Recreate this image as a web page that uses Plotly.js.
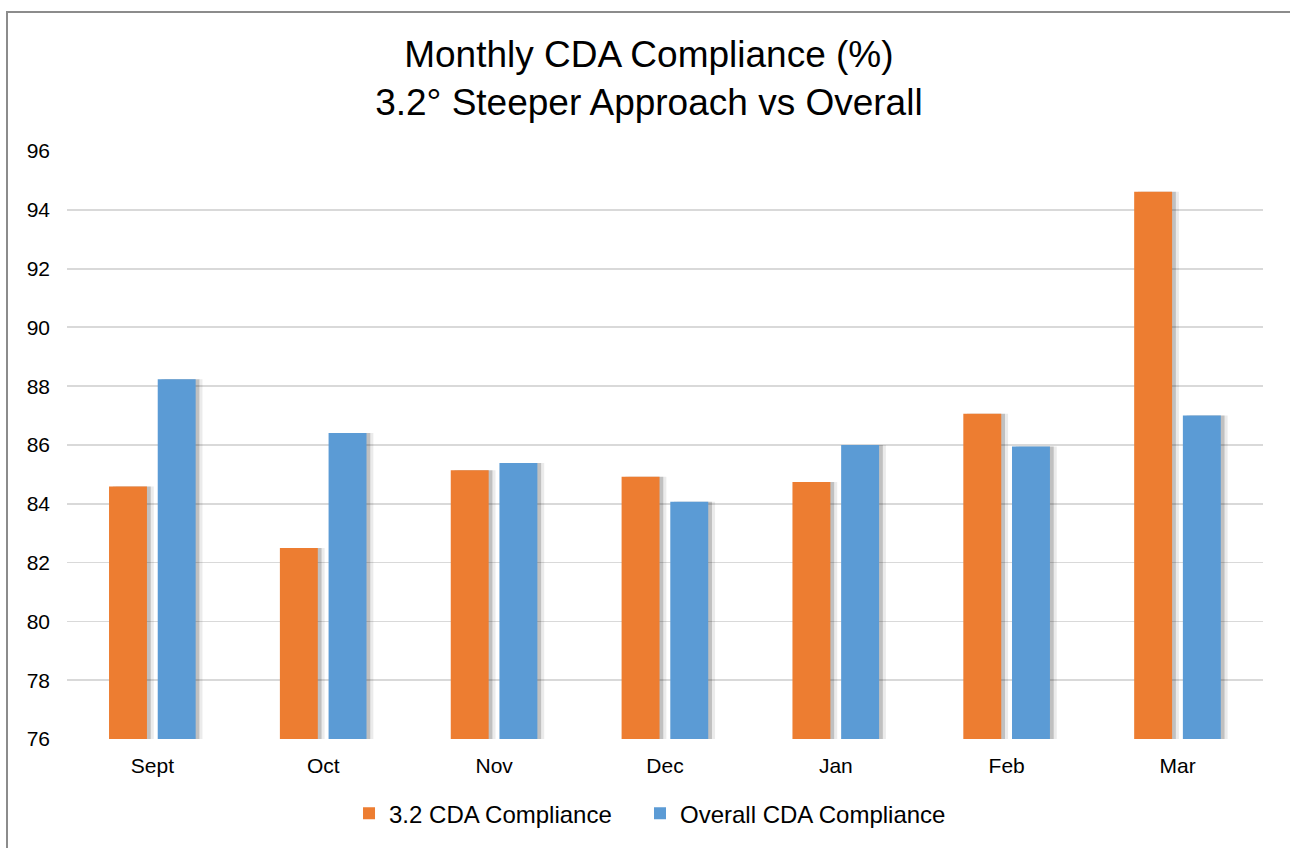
<!DOCTYPE html>
<html>
<head>
<meta charset="utf-8">
<script src="https://cdn.plot.ly/plotly-3.0.1.min.js"></script>
<style>
  html, body { margin: 0; padding: 0; background: #fff; overflow: hidden; }
  #chart { position: absolute; left: 0; top: 0; width: 1290px; height: 848px; }
  #frame { position: absolute; left: 6px; top: 11px; width: 1320px; height: 900px;
           border: 2px solid #8c8c8c; pointer-events: none; }
</style>
</head>
<body>
<div id="chart"></div>
<div id="frame"></div>
<script>
// ---- data ----
const months = ['Sept', 'Oct', 'Nov', 'Dec', 'Jan', 'Feb', 'Mar'];
const cda32 = [84.59, 82.50, 85.14, 84.92, 84.74, 87.06, 94.61];
const overall = [88.24, 86.41, 85.39, 84.07, 86.00, 85.95, 87.00];
const seriesNames = ['3.2 CDA Compliance', 'Overall CDA Compliance'];
const yTicks = [76, 78, 80, 82, 84, 86, 88, 90, 92, 94, 96];

// ---- style ----
const FONT = 'Liberation Sans, Arial, sans-serif';
const ORANGE = '#ED7D31';
const BLUE = '#5B9BD5';
const BAR_W = 0.222;
const OFF_ORANGE = -0.254;
const OFF_BLUE = 0.031;

function shadow(vals, off, shift, alpha) {
  return {
    type: 'bar', x: months, y: vals, width: BAR_W, offset: off + shift,
    marker: { color: 'rgba(0,0,0,' + alpha + ')', line: { width: 0 } },
    showlegend: false, hoverinfo: 'skip'
  };
}

const traces = [
  shadow(cda32, OFF_ORANGE, 0.040, 0.08),
  shadow(cda32, OFF_ORANGE, 0.022, 0.18),
  shadow(overall, OFF_BLUE, 0.040, 0.08),
  shadow(overall, OFF_BLUE, 0.022, 0.18),
  {
    type: 'bar', name: seriesNames[0], x: months, y: cda32,
    width: BAR_W, offset: OFF_ORANGE, legend: 'legend',
    marker: { color: ORANGE, line: { width: 0 } }
  },
  {
    type: 'bar', name: seriesNames[1], x: months, y: overall,
    width: BAR_W, offset: OFF_BLUE, legend: 'legend2',
    marker: { color: BLUE, line: { width: 0 } }
  }
];

const legendFont = { family: FONT, size: 24, color: '#000000' };

const layout = {
  width: 1290, height: 848,
  margin: { l: 67, r: 27, t: 151, b: 106 },
  paper_bgcolor: '#ffffff', plot_bgcolor: '#ffffff',
  font: { family: FONT, color: '#000000' },
  barmode: 'overlay',
  title: {
    text: 'Monthly CDA Compliance (%)<br>3.2° Steeper Approach vs Overall',
    font: { family: FONT, size: 37, color: '#000000' },
    x: 0.503, xref: 'container', xanchor: 'center',
    y: 0.921, yref: 'container', yanchor: 'top'
  },
  xaxis: {
    type: 'category', categoryorder: 'array', categoryarray: months,
    showgrid: false, zeroline: false, showline: false,
    ticks: '', ticklabelstandoff: 12,
    tickfont: { family: FONT, size: 21, color: '#000000' },
    fixedrange: true
  },
  yaxis: {
    range: [76, 96], tickmode: 'array', tickvals: yTicks,
    ticktext: yTicks.map(String),
    showgrid: true, gridcolor: '#D9D9D9', gridwidth: 1.8,
    zeroline: false, showline: false, ticks: '',
    ticklabelstandoff: 16,
    tickfont: { family: FONT, size: 21, color: '#000000' },
    fixedrange: true
  },
  legend: {
    orientation: 'h', x: 0.2358, xanchor: 'left', y: -0.127, yanchor: 'middle',
    font: legendFont
  },
  legend2: {
    orientation: 'h', x: 0.4791, xanchor: 'left', y: -0.127, yanchor: 'middle',
    font: legendFont
  },
  showlegend: true
};

Plotly.newPlot('chart', traces, layout, { displayModeBar: false, staticPlot: true });
</script>
</body>
</html>
